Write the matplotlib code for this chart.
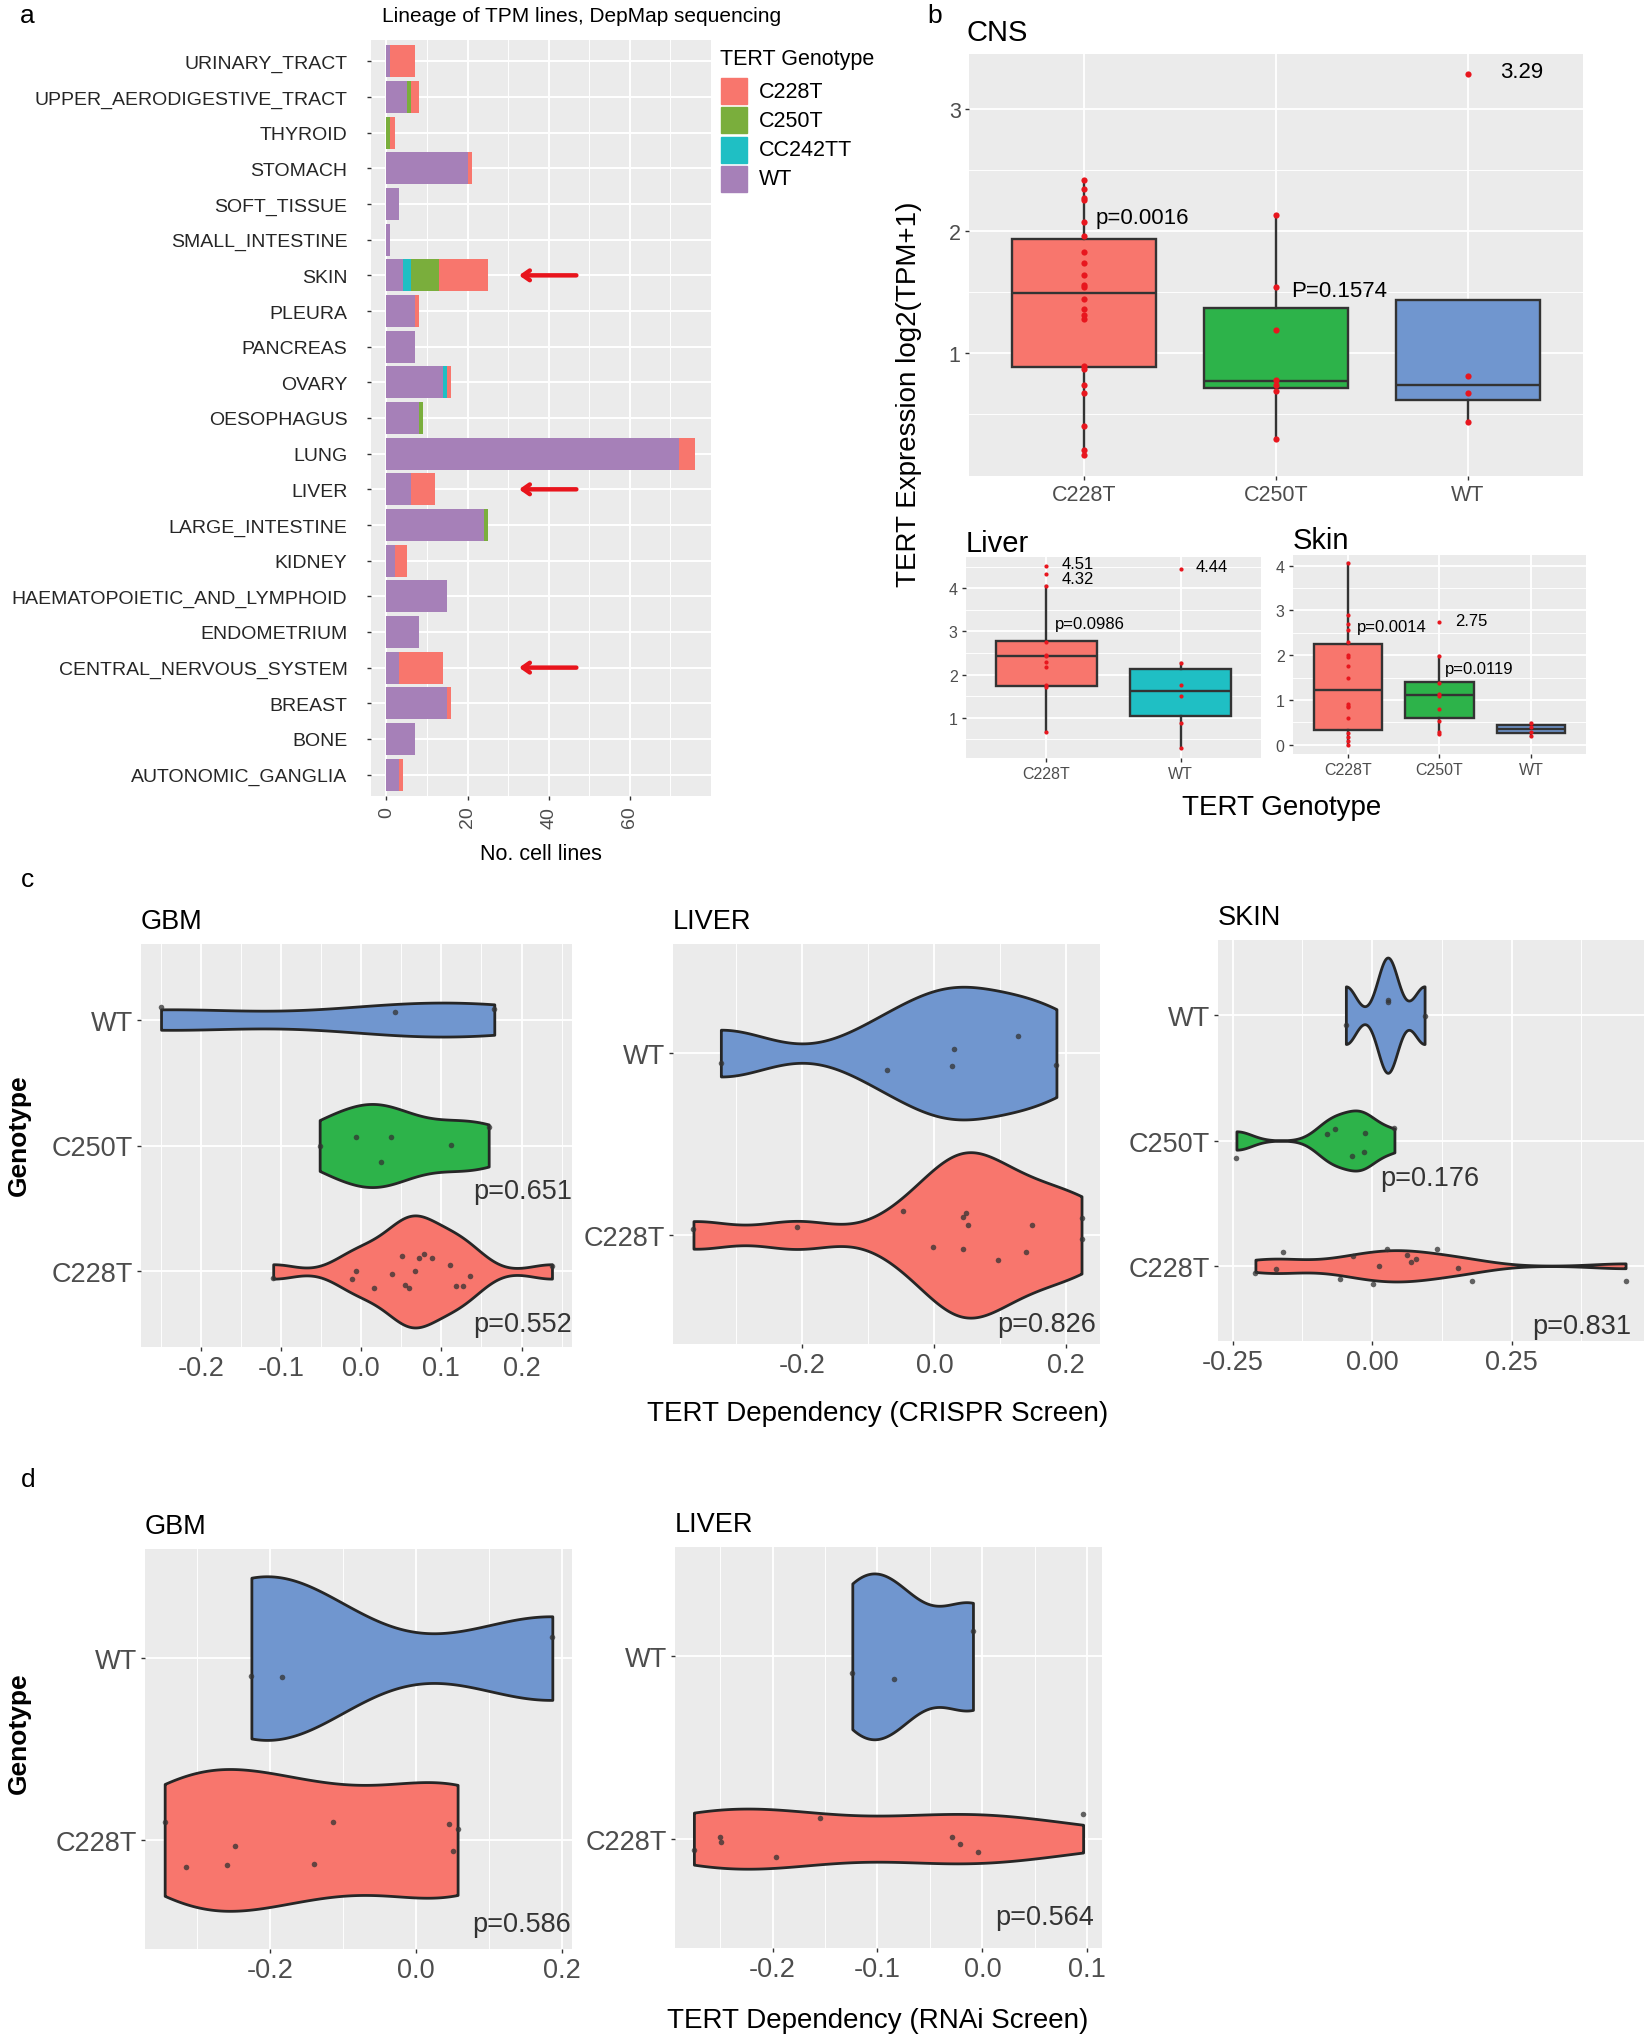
import numpy as np
import matplotlib.pyplot as plt
from matplotlib.patches import Rectangle

plt.rcParams['font.family'] = ['Liberation Sans', 'DejaVu Sans']
plt.rcParams['axes.unicode_minus'] = False

W, H = 1649, 2040
fig = plt.figure(figsize=(W / 100, H / 100), dpi=100)

RED = '#F8766D'
GREEN_A = '#7AAE3C'
CYAN = '#1FBFC4'
PURPLE = '#A680B8'
GREEN = '#2DB34A'
BLUE = '#7096CF'
DOT = '#E8161E'
TICK = '#4D4D4D'

# ---------------- panel a: lineage counts ----------------
lineages = ['URINARY_TRACT', 'UPPER_AERODIGESTIVE_TRACT', 'THYROID', 'STOMACH',
            'SOFT_TISSUE', 'SMALL_INTESTINE', 'SKIN', 'PLEURA', 'PANCREAS', 'OVARY',
            'OESOPHAGUS', 'LUNG', 'LIVER', 'LARGE_INTESTINE', 'KIDNEY',
            'HAEMATOPOIETIC_AND_LYMPHOID', 'ENDOMETRIUM', 'CENTRAL_NERVOUS_SYSTEM',
            'BREAST', 'BONE', 'AUTONOMIC_GANGLIA']
n_wt = [1, 5, 0, 20, 3, 1, 4, 7, 7, 14, 8, 72, 6, 24, 2, 15, 8, 3, 15, 7, 3]
n_cc242tt = [0, 0, 0, 0, 0, 0, 2, 0, 0, 1, 0, 0, 0, 0, 0, 0, 0, 0, 0, 0, 0]
n_c250t = [0, 1, 1, 0, 0, 0, 7, 0, 0, 0, 1, 0, 0, 1, 0, 0, 0, 0, 0, 0, 0]
n_c228t = [6, 2, 1, 1, 0, 0, 12, 1, 0, 1, 0, 4, 6, 0, 3, 0, 0, 11, 1, 0, 1]
genotype_keys = ['C228T', 'C250T', 'CC242TT', 'WT']
arrow_rows = ['SKIN', 'LIVER', 'CENTRAL_NERVOUS_SYSTEM']

# ---------------- panel b: expression boxplots ----------------
cns_groups = ['C228T', 'C250T', 'WT']
cns_pts = [[2.42, 2.34, 2.27, 2.25, 2.07, 1.96, 1.83, 1.74, 1.64, 1.56, 1.54, 1.44,
            1.36, 1.31, 1.28, 0.89, 0.87, 0.74, 0.67, 0.40, 0.20, 0.16],
           [2.13, 1.54, 1.19, 0.78, 0.74, 0.69, 0.29],
           [3.29, 0.81, 0.67, 0.43]]
cns_q1 = [0.88, 0.71, 0.61]
cns_med = [1.49, 0.77, 0.74]
cns_q3 = [1.93, 1.37, 1.43]
cns_lo = [0.16, 0.29, 0.43]
cns_hi = [2.42, 2.13, 1.43]

liv_groups = ['C228T', 'WT']
liv_pts = [[4.51, 4.32, 4.06, 2.75, 2.46, 2.43, 2.29, 2.18, 1.75, 1.72, 0.68],
           [4.44, 2.26, 1.75, 1.50, 0.88, 0.29]]
liv_q1 = [1.74, 1.04]
liv_med = [2.44, 1.62]
liv_q3 = [2.77, 2.13]
liv_lo = [0.68, 0.29]
liv_hi = [4.06, 2.26]

skin_groups = ['C228T', 'C250T', 'WT']
skin_pts = [[4.05, 2.89, 2.69, 2.56, 2.30, 2.0, 1.97, 1.76, 1.49, 0.91, 0.86, 0.83,
             0.59, 0.25, 0.18, 0.07, -0.01],
            [2.75, 1.99, 1.38, 1.13, 1.08, 0.80, 0.53, 0.28, 0.24],
            [0.48, 0.40, 0.29, 0.20]]
skin_q1 = [0.32, 0.59, 0.25]
skin_med = [1.21, 1.11, 0.35]
skin_q3 = [2.24, 1.41, 0.43]
skin_lo = [-0.01, 0.24, 0.20]
skin_hi = [4.05, 1.99, 0.48]

# ---------------- panels c/d: dependency violins (bottom -> top) ----------------
crispr_gbm_x = [[-0.11, -0.007, -0.012, 0.016, 0.038, 0.051, 0.055, 0.06, 0.067, 0.072,
                 0.078, 0.088, 0.111, 0.118, 0.127, 0.136, 0.238],
                [-0.052, -0.007, 0.037, 0.025, 0.112, 0.159],
                [-0.25, 0.042, 0.166]]
crispr_gbm_dy = [[-0.056, 0, -0.062, -0.131, -0.022, 0.126, -0.106, -0.134, 0.006, 0.106,
                  0.14, 0.106, 0.05, -0.112, -0.117, -0.036, 0.042],
                 [0, 0.064, 0.064, -0.134, 0.003, 0.145],
                 [0.10, 0.064, 0.081]]
crispr_liver_x = [[-0.365, -0.208, -0.048, -0.002, 0.043, 0.048, 0.051, 0.043, 0.096,
                   0.139, 0.148, 0.223, 0.223],
                  [-0.3235, -0.072, 0.027, 0.030, 0.127, 0.185]]
crispr_liver_dy = [[0.03, 0.041, 0.131, -0.065, 0.1, 0.12, 0.057, -0.08, -0.139, -0.096,
                    0.053, 0.092, -0.02],
                   [-0.057, -0.092, -0.069, 0.022, 0.092, -0.067]]
crispr_skin_x = [[-0.209, -0.173, -0.160, -0.058, -0.034, 0.002, 0.013, 0.026, 0.062,
                  0.070, 0.079, 0.117, 0.153, 0.179, 0.454],
                 [-0.243, -0.081, -0.066, -0.013, -0.015, -0.036, 0.040],
                 [-0.047, 0.028, 0.028, 0.094]]
crispr_skin_dy = [[-0.06, -0.026, 0.114, -0.105, 0.08, -0.142, 0, 0.137, 0.085, 0.028,
                   0.051, 0.137, -0.014, -0.12, -0.123],
                  [-0.137, 0.048, 0.094, 0.063, -0.094, -0.123, 0.1],
                  [-0.077, 0.122, 0.108, -0.003]]
rnai_gbm_x = [[-0.345, -0.316, -0.26, -0.249, -0.14, -0.114, 0.045, 0.057, 0.051],
              [-0.226, -0.184, 0.187]]
rnai_gbm_dy = [[0.098, -0.149, -0.139, -0.032, -0.131, 0.098, 0.09, 0.06, -0.062],
               [-0.1, -0.104, 0.116]]
rnai_liver_x = [[-0.275, -0.250, -0.249, -0.197, -0.155, -0.029, -0.021, -0.004, 0.096],
                [-0.124, -0.084, -0.009]]
rnai_liver_dy = [[-0.06, 0.008, -0.02, -0.1, 0.114, 0.01, -0.03, -0.072, 0.137],
                 [-0.094, -0.125, 0.139]]


def add_ax(l, t, r, b):
    return fig.add_axes([l / W, 1 - b / H, (r - l) / W, (b - t) / H])


def ftext(x, y, s, **kw):
    fig.text(x / W, 1 - y / H, s, **kw)


def gg_style(ax, size):
    ax.set_facecolor('#EBEBEB')
    for sp in ax.spines.values():
        sp.set_visible(False)
    ax.set_axisbelow(True)
    ax.tick_params(which='major', length=3, width=1, color='#333333',
                   labelcolor=TICK, labelsize=size, pad=3)
    ax.tick_params(which='minor', length=0)


def nrd0(kde):
    # R's default violin bandwidth, expressed as a factor of the sample sd
    d = kde.dataset.ravel()
    sd = d.std(ddof=1)
    q75, q25 = np.percentile(d, [75, 25])
    lo = min(sd, (q75 - q25) / 1.34)
    if lo <= 0:
        lo = sd
    return 0.9 * lo * len(d) ** -0.2 / sd


# ================= panel a =================
ax = add_ax(371, 41, 711, 797)
gg_style(ax, 14)
y = np.arange(len(lineages))
left = np.zeros(len(lineages))
for vals, col in [(n_wt, PURPLE), (n_cc242tt, CYAN), (n_c250t, GREEN_A), (n_c228t, RED)]:
    ax.barh(y, vals, left=left, height=0.9, color=col, zorder=2)
    left += np.array(vals)
ax.set_yticks(y)
ax.set_yticklabels(lineages)
ax.set_ylim(len(lineages) - 0.4, -0.6)
ax.set_xlim(-3.8, 80)
ax.set_xticks([0, 20, 40, 60])
ax.set_xticks([10, 30, 50, 70], minor=True)
ax.tick_params(axis='y', pad=14, labelcolor='#262626')
ax.tick_params(axis='x', labelrotation=90, labelcolor=TICK, pad=4)
ax.grid(axis='x', which='major', color='white', lw=1.4)
ax.grid(axis='x', which='minor', color='white', lw=0.7)
ax.grid(axis='y', which='major', color='white', lw=1.4)
for name in arrow_rows:
    r = lineages.index(name)
    ax.annotate('', xy=(32, r), xytext=(47.5, r), annotation_clip=False,
                arrowprops=dict(arrowstyle='->,head_length=0.5,head_width=0.35',
                                color='#E8141C', lw=3.2))
ax.set_xlabel('No. cell lines', fontsize=15.5, labelpad=11)

# legend drawn by hand so the keys get ggplot's size and spacing
ftext(720, 60, 'TERT Genotype', fontsize=15.5, ha='left', va='center')
for i, (lab, col) in enumerate(zip(genotype_keys, [RED, GREEN_A, CYAN, PURPLE])):
    y0 = 79 + i * 29.3
    fig.add_artist(Rectangle((721 / W, 1 - (y0 + 26) / H), 26.5 / W, 26 / H,
                             transform=fig.transFigure, color=col))
    ftext(759, y0 + 13, lab, fontsize=15.5, ha='left', va='center')

ftext(582, 17, 'Lineage of TPM lines, DepMap sequencing', fontsize=15, ha='center', va='center')
ftext(20, 16, 'a', fontsize=19, ha='left', va='center')


# ================= panel b =================
def box_panel(ax, groups, q1, med, q3, lo, hi, pts, colors, size, dot_s):
    gg_style(ax, size)
    stats = [dict(q1=a, med=m, q3=b, whislo=l, whishi=h)
             for a, m, b, l, h in zip(q1, med, q3, lo, hi)]
    pos = np.arange(1, len(groups) + 1)
    bp = ax.bxp(stats, positions=pos, widths=0.75, patch_artist=True, showfliers=False,
                showcaps=False, manage_ticks=False,
                boxprops=dict(edgecolor='#333333', lw=1.7),
                medianprops=dict(color='#333333', lw=1.7),
                whiskerprops=dict(color='#333333', lw=1.7))
    for patch, c in zip(bp['boxes'], colors):
        patch.set_facecolor(c)
    for p, vals in zip(pos, pts):
        ax.scatter(np.full(len(vals), p), vals, s=dot_s, color=DOT, lw=0, zorder=3)
    ax.set_xticks(pos)
    ax.set_xticklabels(groups)
    ax.set_xlim(0.4, len(groups) + 0.6)
    ax.grid(axis='x', which='major', color='white', lw=1.3)
    ax.grid(axis='y', which='major', color='white', lw=1.3)
    ax.grid(axis='y', which='minor', color='white', lw=0.65)


ax = add_ax(969, 55, 1583, 477)
box_panel(ax, cns_groups, cns_q1, cns_med, cns_q3, cns_lo, cns_hi, cns_pts,
          [RED, GREEN, BLUE], 15.5, 20)
ax.set_ylim(-0.01, 3.45)
ax.set_yticks([1, 2, 3])
ax.set_yticks([0.5, 1.5, 2.5], minor=True)
ax.text(1.06, 2.11, 'p=0.0016', fontsize=16, va='center', ha='left')
ax.text(2.08, 1.51, 'P=0.1574', fontsize=16, va='center', ha='left')
ax.text(3.17, 3.31, '3.29', fontsize=16, va='center', ha='left')
ftext(967, 33, 'CNS', fontsize=21, ha='left', va='center')
ftext(927, 16, 'b', fontsize=19, ha='left', va='center')

ax = add_ax(966, 558, 1261, 759)
box_panel(ax, liv_groups, liv_q1, liv_med, liv_q3, liv_lo, liv_hi, liv_pts,
          [RED, CYAN], 11.5, 9)
ax.set_ylim(0.07, 4.72)
ax.set_yticks([1, 2, 3, 4])
ax.set_yticks([0.5, 1.5, 2.5, 3.5, 4.5], minor=True)
ax.text(1.11, 4.57, '4.51', fontsize=12, va='center', ha='left')
ax.text(1.11, 4.22, '4.32', fontsize=12, va='center', ha='left')
ax.text(2.11, 4.50, '4.44', fontsize=12, va='center', ha='left')
ax.text(1.06, 3.18, 'p=0.0986', fontsize=12, va='center', ha='left')
ftext(966, 544, 'Liver', fontsize=21, ha='left', va='center')

ax = add_ax(1293, 556, 1586, 755)
box_panel(ax, skin_groups, skin_q1, skin_med, skin_q3, skin_lo, skin_hi, skin_pts,
          [RED, GREEN, BLUE], 11.5, 9)
ax.set_ylim(-0.21, 4.24)
ax.set_yticks([0, 1, 2, 3, 4])
ax.set_yticks([0.5, 1.5, 2.5, 3.5], minor=True)
ax.text(1.10, 2.63, 'p=0.0014', fontsize=12, va='center', ha='left')
ax.text(2.17, 2.77, '2.75', fontsize=12, va='center', ha='left')
ax.text(2.06, 1.71, 'p=0.0119', fontsize=12, va='center', ha='left')
ftext(1293, 541, 'Skin', fontsize=21, ha='left', va='center')

ftext(909, 394, 'TERT Expression log2(TPM+1)', fontsize=20, rotation=90,
      ha='center', va='center')
ftext(1282, 808, 'TERT Genotype', fontsize=20, ha='center', va='center')


# ================= panels c and d =================
def violin_panel(box, title, xs, dys, labels, colors, widths, xlim, xmaj, xmin, xfmt):
    l, t, r, b = box
    ax = add_ax(l, t, r, b)
    gg_style(ax, 19.5)
    pos = np.arange(1, len(xs) + 1)
    parts = ax.violinplot(xs, positions=pos, widths=widths, orientation='horizontal',
                          showextrema=False, bw_method=nrd0, points=300)
    for body, c in zip(parts['bodies'], colors):
        body.set_facecolor(c)
        body.set_edgecolor('#262626')
        body.set_linewidth(2)
        body.set_alpha(1)
        body.set_zorder(2)
    for p, x, dy in zip(pos, xs, dys):
        ax.scatter(x, p + np.array(dy), s=16, color='#333333', alpha=0.75, lw=0, zorder=3)
    ax.set_yticks(pos)
    ax.set_yticklabels(labels)
    ax.set_ylim(0.4, len(xs) + 0.6)
    ax.set_xlim(*xlim)
    ax.set_xticks(xmaj)
    ax.set_xticklabels([xfmt.format(v) for v in xmaj])
    ax.set_xticks(xmin, minor=True)
    ax.grid(axis='x', which='major', color='white', lw=1.3)
    ax.grid(axis='x', which='minor', color='white', lw=0.65)
    ax.grid(axis='y', which='major', color='white', lw=1.3)
    ftext(l, t - 23, title, fontsize=19.5, ha='left', va='center')
    return ax


ax = violin_panel((141, 945, 572, 1348), 'GBM', crispr_gbm_x, crispr_gbm_dy,
                  ['C228T', 'C250T', 'WT'], [RED, GREEN, BLUE], [0.89, 0.66, 0.27],
                  (-0.275, 0.263), [-0.2, -0.1, 0.0, 0.1, 0.2],
                  [-0.25, -0.15, -0.05, 0.05, 0.15, 0.25], '{:.1f}')
ax.text(0.263, 1.64, 'p=0.651', fontsize=19.5, color='#333333', ha='right', va='center')
ax.text(0.263, 0.58, 'p=0.552', fontsize=19.5, color='#333333', ha='right', va='center')

ax = violin_panel((673, 945, 1100, 1345), 'LIVER', crispr_liver_x, crispr_liver_dy,
                  ['C228T', 'WT'], [RED, BLUE], [0.91, 0.73],
                  (-0.396, 0.251), [-0.2, 0.0, 0.2], [-0.3, -0.1, 0.1], '{:.1f}')
ax.text(0.245, 0.51, 'p=0.826', fontsize=19.5, color='#333333', ha='right', va='center')

ax = violin_panel((1218, 941, 1644, 1342), 'SKIN', crispr_skin_x, crispr_skin_dy,
                  ['C228T', 'C250T', 'WT'], [RED, GREEN, BLUE], [0.25, 0.48, 0.92],
                  (-0.276, 0.487), [-0.25, 0.0, 0.25], [-0.125, 0.125, 0.375], '{:.2f}')
ax.text(0.104, 1.70, 'p=0.176', fontsize=19.5, color='#333333', ha='center', va='center')
ax.text(0.465, 0.52, 'p=0.831', fontsize=19.5, color='#333333', ha='right', va='center')

ftext(878, 1414, 'TERT Dependency (CRISPR Screen)', fontsize=20, ha='center', va='center')
ftext(19, 1135, 'Genotype', fontsize=19, fontweight='bold', rotation=90,
      ha='center', va='center')
ftext(21, 880, 'c', fontsize=19, ha='left', va='center')

ax = violin_panel((145, 1550, 572, 1950), 'GBM', rnai_gbm_x, rnai_gbm_dy,
                  ['C228T', 'WT'], [RED, BLUE], [0.78, 0.90],
                  (-0.372, 0.214), [-0.2, 0.0, 0.2], [-0.3, -0.1, 0.1], '{:.1f}')
ax.text(0.212, 0.54, 'p=0.586', fontsize=19.5, color='#333333', ha='right', va='center')

ax = violin_panel((675, 1548, 1102, 1949), 'LIVER', rnai_liver_x, rnai_liver_dy,
                  ['C228T', 'WT'], [RED, BLUE], [0.33, 0.91],
                  (-0.293, 0.114), [-0.2, -0.1, 0.0, 0.1], [-0.25, -0.15, -0.05, 0.05],
                  '{:.1f}')
ax.text(0.106, 0.57, 'p=0.564', fontsize=19.5, color='#333333', ha='right', va='center')

ftext(878, 2021, 'TERT Dependency (RNAi Screen)', fontsize=20, ha='center', va='center')
ftext(19, 1733, 'Genotype', fontsize=19, fontweight='bold', rotation=90,
      ha='center', va='center')
ftext(21, 1480, 'd', fontsize=19, ha='left', va='center')

fig.savefig('out.png', dpi=100)
